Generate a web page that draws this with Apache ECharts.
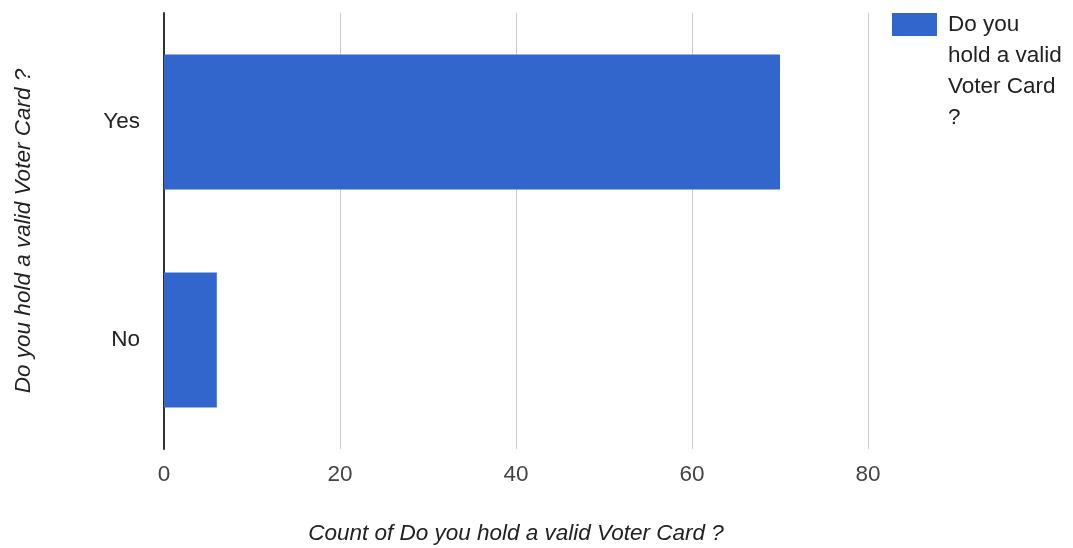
<!DOCTYPE html>
<html>
<head>
<meta charset="utf-8">
<script src="https://cdn.jsdelivr.net/npm/echarts@6/dist/echarts.min.js"></script>
<style>
  html, body { margin: 0; padding: 0; background: #fff; }
  #chart { width: 1073px; height: 548px; }
</style>
</head>
<body>
<div id="chart"></div>
<script>
// Survey answers and their counts
const categories = ['Yes', 'No'];
const counts = [70, 6];
const seriesName = 'Do you hold a valid Voter Card ?';
const legendLines = ['Do you', 'hold a valid', 'Voter Card', '?'];
const xAxisTitle = 'Count of Do you hold a valid Voter Card ?';
const yAxisTitle = 'Do you hold a valid Voter Card ?';
const xTicks = { min: 0, max: 80, interval: 20 };

const FONT = '"Liberation Sans", Arial, sans-serif';
const FS = 22.5;
const LEGEND_LINE = 31;

// The legend text block is centred on its swatch; leading blank lines
// push the first wrapped line level with the swatch.
const legendText = new Array(legendLines.length - 1).fill('').concat(legendLines).join('\n');

const chart = echarts.init(document.getElementById('chart'), null, { renderer: 'canvas' });

chart.setOption({
  animation: false,
  textStyle: { fontFamily: FONT },
  grid: {
    left: 164, right: 205, top: 13, bottom: 99,
    containLabel: false,
    outerBoundsMode: 'none'
  },
  legend: {
    show: true,
    orient: 'vertical',
    left: 887,
    top: 24.5 - LEGEND_LINE * (legendLines.length - 0.5) - 5,
    itemWidth: 45,
    itemHeight: 23,
    itemGap: 10,
    icon: 'rect',
    formatter: () => legendText,
    textStyle: {
      fontFamily: FONT,
      fontSize: FS,
      color: '#222',
      lineHeight: LEGEND_LINE,
      padding: [0, 0, 0, 6]
    }
  },
  xAxis: {
    type: 'value',
    min: xTicks.min,
    max: xTicks.max,
    interval: xTicks.interval,
    name: xAxisTitle,
    nameLocation: 'middle',
    nameGap: 73,
    nameTextStyle: { fontFamily: FONT, fontSize: FS, fontStyle: 'italic', color: '#222' },
    axisLine: { show: false },
    axisTick: { show: false },
    axisLabel: { margin: 14, fontFamily: FONT, fontSize: FS, color: '#444' },
    splitLine: { show: true, lineStyle: { color: '#cccccc', width: 1 } }
  },
  yAxis: {
    type: 'category',
    data: categories,
    inverse: true,
    name: yAxisTitle,
    nameLocation: 'middle',
    nameGap: 129,
    nameTextStyle: { fontFamily: FONT, fontSize: FS, fontStyle: 'italic', color: '#222' },
    axisLine: { show: true, lineStyle: { color: '#333', width: 2 } },
    axisTick: { show: false },
    axisLabel: { margin: 24, fontFamily: FONT, fontSize: FS, color: '#222' },
    splitLine: { show: false }
  },
  series: [{
    name: seriesName,
    type: 'bar',
    data: counts,
    barCategoryGap: '38%',
    itemStyle: { color: '#3366cc' },
    z: 1
  }]
});
</script>
</body>
</html>
